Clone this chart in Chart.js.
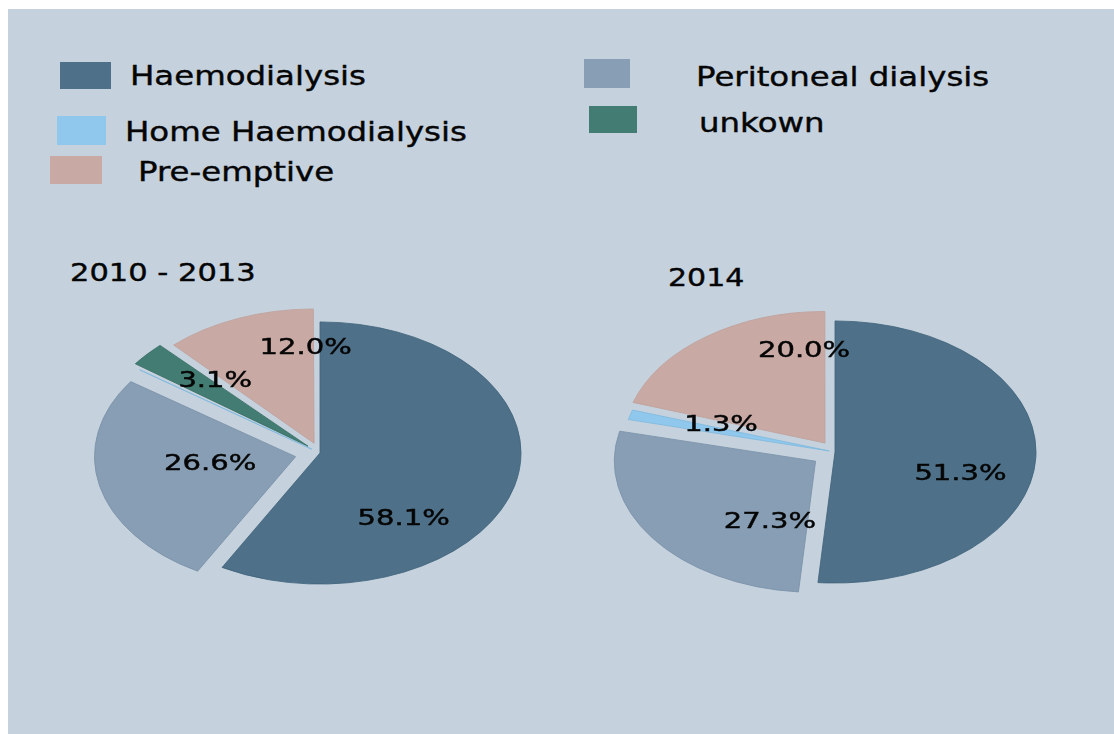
<!DOCTYPE html>
<html>
<head>
<meta charset="utf-8">
<script src="https://cdn.jsdelivr.net/npm/chart.js@4.4.0/dist/chart.umd.min.js"></script>
<style>
  body { margin: 0; background: #fff; font-family: "DejaVu Sans", Verdana, sans-serif; }
  #panel { position: absolute; left: 8px; top: 9px; width: 1106px; height: 725px; background: #C5D2DE; }
  .txt { position: absolute; white-space: nowrap; color: #050505; line-height: 1; transform-origin: 0 0;
         -webkit-text-stroke: 0.4px #050505; }
  .sw { position: absolute; }
  canvas { position: absolute; }
</style>
</head>
<body>
<div id="panel"></div>
<canvas id="chart1" width="520" height="300" style="left:60px;top:303px"></canvas>
<canvas id="chart2" width="520" height="300" style="left:575px;top:302px"></canvas>

<script>
// data (percent of patients, by first treatment)
const categories = ['Haemodialysis', 'Peritoneal dialysis', 'Home Haemodialysis', 'unkown', 'Pre-emptive'];
const period1 = '2010 - 2013';
const period2 = '2014';
const shares1 = [58.1, 26.6, 0.2, 3.1, 12.0];
const shares2 = [51.3, 27.3, 1.3, 0.0, 20.0];

// look
const sliceColors = ['#4E7189', '#889EB4', '#8FC8EC', '#427C72', '#C8A9A3'];
const sliceBorders = ['#3F6279', '#7A91A8', '#7FB8DD', '#356C62', '#BFA09A'];
const TILT = 0.652;          // pies are drawn flattened, like the 3d excel pie
const RADIUS = 201;
const LABEL_FRACTION = 0.6;

// how far each slice is pulled out (px) and label nudges
const explode1 = [0, 25, 10, 16, 16];
const explode2 = [0, 24, 6, 0, 17];
const nudges1 = [[-33, 44], [32, -12], [0, 0], [-2, -15], [36, -24]];
const nudges2 = [[5, 17], [52, 13], [8, -7], [0, 0], [50, -30]];

// legend boxes [x, y, w, h] and text [x, y], in categories order
const legendBoxes = [[60, 62, 51, 27], [584, 59, 46, 29], [57, 116, 49, 29], [589, 106, 48, 27], [50, 156, 52, 28]];
const legendText = [[130, 62], [696, 63], [125, 118], [699, 109], [138, 158]];

function addText(str, x, y, size, stretch) {
    let d = document.createElement('div');
    d.className = 'txt';
    d.textContent = str;
    d.style.left = x + 'px';
    d.style.top = y + 'px';
    d.style.fontSize = size + 'px';
    d.style.transform = 'scaleX(' + stretch + ')';
    document.body.appendChild(d);
}

categories.forEach(function (name, i) {
    let b = legendBoxes[i];
    let sw = document.createElement('div');
    sw.className = 'sw';
    sw.style.left = b[0] + 'px';
    sw.style.top = b[1] + 'px';
    sw.style.width = b[2] + 'px';
    sw.style.height = b[3] + 'px';
    sw.style.background = sliceColors[i];
    document.body.appendChild(sw);
    addText(name, legendText[i][0], legendText[i][1], 27, 1.2);
});

addText(period1, 70, 260, 25, 1.22);
addText(period2, 668, 265, 25, 1.2);

const tiltPlugin = {
    id: 'tilt',
    beforeDatasetsDraw(chart) {
        const ctx = chart.ctx;
        const a = chart.chartArea;
        const cx = (a.left + a.right) / 2, cy = (a.top + a.bottom) / 2;
        ctx.save();
        ctx.translate(cx, cy);
        ctx.scale(1, TILT);
        ctx.translate(-cx, -cy);
    },
    afterDatasetsDraw(chart, args, opts) {
        const ctx = chart.ctx;
        ctx.restore();
        const meta = chart.getDatasetMeta(0);
        const values = chart.data.datasets[0].data;
        const size = 21.5;
        ctx.save();
        ctx.fillStyle = '#050505';
        ctx.strokeStyle = '#050505';
        ctx.lineWidth = 0.45;
        ctx.font = size + 'px "DejaVu Sans", Verdana, sans-serif';
        ctx.textAlign = 'center';
        ctx.textBaseline = 'alphabetic';
        meta.data.forEach(function (arc, i) {
            if (values[i] < 1) return; // tiny slices get no label
            const p = arc.getProps(['x', 'y', 'startAngle', 'endAngle', 'outerRadius'], true);
            const mid = (p.startAngle + p.endAngle) / 2;
            const r = opts.explode[i] + LABEL_FRACTION * RADIUS;
            const x = p.x + Math.cos(mid) * r + opts.nudges[i][0];
            const y = p.y + Math.sin(mid) * r * TILT + opts.nudges[i][1];
            const txt = values[i].toFixed(1) + '%';
            ctx.save();
            ctx.translate(x, y + 0.364 * size);
            ctx.scale(1.35, 1);
            ctx.fillText(txt, 0, 0);
            ctx.strokeText(txt, 0, 0);
            ctx.restore();
        });
        ctx.restore();
    }
};

function makePie(id, shares, explode, nudges) {
    return new Chart(document.getElementById(id), {
        type: 'pie',
        data: {
            labels: categories,
            datasets: [{
                data: shares,
                backgroundColor: sliceColors,
                borderColor: sliceBorders,
                borderWidth: 1,
                offset: explode.map(function (d) { return d * 4; }), // chart.js moves arcs by offset/4
                clip: false
            }]
        },
        options: {
            responsive: false,
            animation: false,
            radius: RADIUS,
            layout: { padding: 0 },
            plugins: {
                legend: { display: false },
                tooltip: { enabled: false },
                tilt: { explode: explode, nudges: nudges }
            }
        },
        plugins: [tiltPlugin]
    });
}

let firstChart = makePie('chart1', shares1, explode1, nudges1);
let secondChart = makePie('chart2', shares2, explode2, nudges2);
</script>
</body>
</html>
